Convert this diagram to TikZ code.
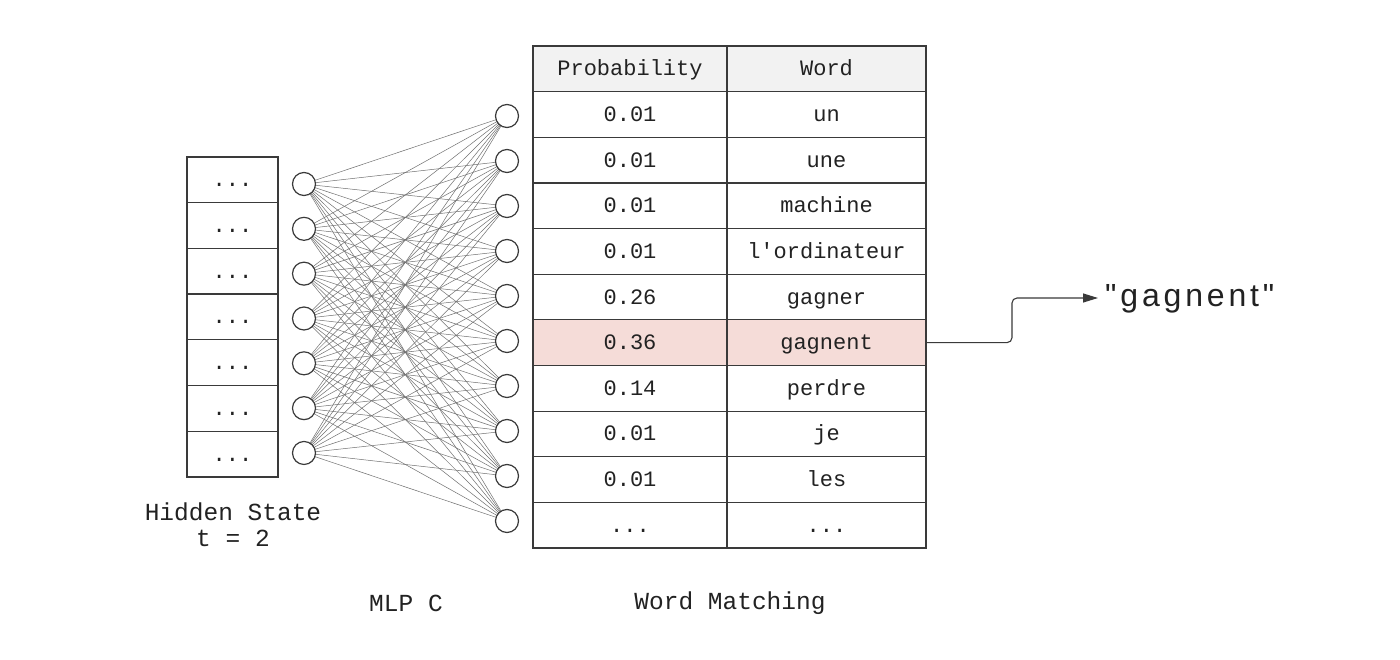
\documentclass[tikz,border=0pt]{standalone}
\usepackage{fontspec}
\setmonofont{Liberation Mono}
\newfontfamily\quotefont{Liberation Sans}[LetterSpace=12]
\usetikzlibrary{arrows.meta}
\definecolor{txt}{HTML}{222222}
\definecolor{edge}{HTML}{3A3A3A}
\definecolor{wire}{HTML}{707070}
\definecolor{headfill}{HTML}{F2F2F2}
\definecolor{hifill}{HTML}{F5DCD8}
\newcommand\mydots{...}
\tikzset{
  cellbox/.style={draw=edge, line width=1.2pt, inner sep=0pt, text=txt,
    text height=14pt, text depth=0pt,
    font=\fontsize{22}{24}\selectfont\ttfamily},
  pcell/.style={cellbox, minimum width=194pt, minimum height=45.6pt},
  wcell/.style={cellbox, minimum width=199pt, minimum height=45.6pt},
  hcell/.style={cellbox, minimum width=91pt, minimum height=45.7pt},
  neuron/.style={circle, draw=edge, line width=1.2pt, fill=white, minimum size=23pt, inner sep=0pt},
  wirestyle/.style={draw=wire, line width=0.5pt},
  label/.style={text=txt, font=\fontsize{24.5}{26}\selectfont\ttfamily, align=center, inner sep=0pt},
}
\begin{document}
\begin{tikzpicture}[x=1pt,y=-1pt]
\useasboundingbox (0,0) rectangle (1400,660);
\fill[white] (0,0) rectangle (1400,660);
% hidden state cells
\foreach \k in {0,...,6}{
  \node[hcell] (h\k) at (232.5,{157+45.7*(\k+0.5)}) {\mydots};
}
% neurons (coordinates first)
\foreach \i in {0,...,6}{
  \coordinate (lc\i) at (304,{184+44.83*\i});
}
\foreach \j in {0,...,9}{
  \coordinate (rc\j) at (507,{116+45*\j});
}
\foreach \i in {0,...,6}{
  \foreach \j in {0,...,9}{
    \draw[wirestyle] (lc\i) -- (rc\j);
  }
}
\foreach \i in {0,...,6}{
  \node[neuron] (l\i) at (lc\i) {};
}
\foreach \j in {0,...,9}{
  \node[neuron] (r\j) at (rc\j) {};
}
% table
\node[pcell, fill=headfill] (p0) at (630,{46+45.64*0.5}) {Probability};
\node[wcell, fill=headfill] (w0) at (826.5,{46+45.64*0.5}) {Word};
\foreach \n/\p/\w in {1/0.01/un, 2/0.01/une, 3/0.01/machine, 4/0.01/l'ordinateur,
  5/0.26/gagner, 7/0.14/perdre, 8/0.01/je, 9/0.01/les}{
  \node[pcell] (p\n) at (630,{46+45.64*(\n+0.5)}) {\p};
  \node[wcell] (w\n) at (826.5,{46+45.64*(\n+0.5)}) {\w};
}
\node[pcell] (p10) at (630,{46+45.64*10.5}) {\mydots};
\node[wcell] (w10) at (826.5,{46+45.64*10.5}) {\mydots};
\node[pcell, fill=hifill] (p6) at (630,{46+45.64*6.5}) {0.36};
\node[wcell, fill=hifill] (w6) at (826.5,{46+45.64*6.5}) {gagnent};
% output
\node[anchor=base west, inner sep=0pt, text=txt, font=\fontsize{32}{36}\selectfont\quotefont] (out) at (1105,306) {"gagnent"};
\coordinate (tip) at (1098,298);
\draw[edge, line width=1.1pt, rounded corners=5pt, -{Triangle[length=15pt,width=9pt]}]
  (w6.east) -- (1012,{46+45.64*6.5}) |- (tip);
% labels
\node[label] (hs) at (233,525) {Hidden State\\t = 2};
\node[label] (mlp) at (406,603) {MLP C};
\node[label] (wm) at (730,603) {Word Matching};
\end{tikzpicture}
\end{document}
